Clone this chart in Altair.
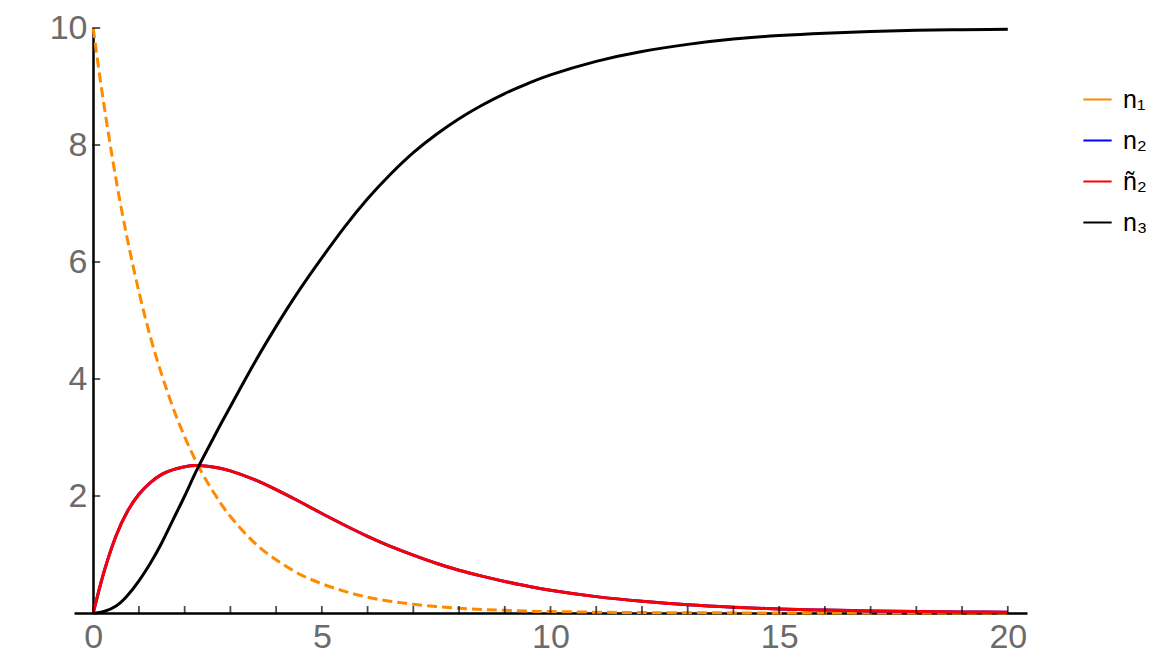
import altair as alt
import pandas as pd

t = [0, 0.1, 0.25, 0.5, 0.75, 1, 1.25, 1.5, 1.75, 2, 2.25, 2.5, 2.75, 3, 3.5, 4, 4.5,
     5, 5.5, 6, 6.5, 7, 7.5, 8, 8.5, 9, 9.5, 10, 11, 12, 13, 14, 15, 16, 17, 18, 19, 20]
n1 = [10, 9.42, 8.61, 7.41, 6.38, 5.49, 4.72, 4.07, 3.50, 3.01, 2.59, 2.23, 1.92, 1.65, 1.22,
      0.91, 0.67, 0.50, 0.37, 0.27, 0.20, 0.15, 0.11, 0.08, 0.06, 0.045, 0.033, 0.025, 0.014,
      0.007, 0.004, 0.002, 0.001, 0.0007, 0.0004, 0.0002, 0.0001, 0.0001]
n2 = [0, 0.31, 0.74, 1.32, 1.74, 2.03, 2.23, 2.37, 2.45, 2.50, 2.52, 2.51, 2.48, 2.43, 2.29,
      2.11, 1.91, 1.70, 1.50, 1.31, 1.14, 0.99, 0.85, 0.73, 0.63, 0.54, 0.46, 0.39, 0.28,
      0.20, 0.14, 0.10, 0.07, 0.05, 0.035, 0.025, 0.018, 0.012]
n2_tilde = [0, 0.31, 0.74, 1.32, 1.74, 2.03, 2.23, 2.37, 2.45, 2.50, 2.52, 2.51, 2.48, 2.43, 2.29,
            2.11, 1.91, 1.70, 1.50, 1.31, 1.14, 0.99, 0.85, 0.73, 0.63, 0.54, 0.46, 0.39, 0.28,
            0.20, 0.14, 0.10, 0.07, 0.05, 0.035, 0.025, 0.018, 0.012]
n3 = [0, 0.005, 0.03, 0.12, 0.30, 0.55, 0.85, 1.20, 1.60, 2.00, 2.42, 2.80, 3.17, 3.53, 4.24,
      4.90, 5.51, 6.07, 6.60, 7.08, 7.50, 7.87, 8.18, 8.45, 8.68, 8.88, 9.05, 9.20, 9.43,
      9.60, 9.72, 9.81, 9.87, 9.91, 9.94, 9.96, 9.97, 9.98]

series = ["n\u2081", "n\u2082", "\u00f1\u2082", "n\u2083"]
colors = ["#ff8a00", "#0000ff", "#ff0000", "#000000"]

x_ticks = list(range(0, 21))
x_labels = [0, 5, 10, 15, 20]
y_ticks = [2, 4, 6, 8, 10]

rows = []
for name, vals in zip(series, [n1, n2, n2_tilde, n3]):
    for ti, v in zip(t, vals):
        rows.append({"t": ti, "v": v, "s": name})
df = pd.DataFrame(rows)

FONT = "Liberation Sans"
xscale = alt.Scale(domain=[-0.42, 20.42], nice=False, zero=False)
yscale = alt.Scale(domain=[0, 10], nice=False)
cscale = alt.Scale(domain=series, range=colors)

xaxis = alt.Axis(values=x_labels, title=None, grid=False, ticks=False, domainColor="black",
                 domainWidth=2.5, labelFont=FONT, labelFontSize=34, labelColor="#6b6b6b",
                 labelPadding=7, format="d")
yaxis = alt.Axis(values=y_ticks, title=None, grid=False, ticks=False, domainColor="black",
                 domainWidth=2.5, labelFont=FONT, labelFontSize=34, labelColor="#6b6b6b",
                 labelPadding=6, offset=-19, format="d")

legend = alt.Legend(title=None, orient="none", legendX=1008, legendY=56, symbolType="stroke",
                    symbolSize=800, symbolStrokeWidth=2, labelFont=FONT, labelFontSize=25,
                    labelColor="black", rowPadding=12, symbolDash=[1, 0], labelOffset=10)

def layer(name, dash=None):
    kw = {"strokeWidth": 3}
    if dash:
        kw["strokeDash"] = dash
    return alt.Chart(df[df.s == name]).mark_line(interpolate="natural", clip=False, **kw).encode(
        x=alt.X("t:Q", scale=xscale, axis=xaxis),
        y=alt.Y("v:Q", scale=yscale, axis=yaxis),
        color=alt.Color("s:N", scale=cscale, legend=legend),
    )

xt = pd.DataFrame({"t": x_ticks, "v": [0] * len(x_ticks)})
yt = pd.DataFrame({"t": [0] * len(y_ticks), "v": y_ticks})

xtick_layer = alt.Chart(xt).mark_tick(color="black", thickness=1.8, size=8, yOffset=-3, orient="vertical").encode(
    x=alt.X("t:Q", scale=xscale), y=alt.Y("v:Q", scale=yscale))
ytick_layer = alt.Chart(yt).mark_tick(color="black", thickness=1.8, size=8, xOffset=3, orient="horizontal").encode(
    x=alt.X("t:Q", scale=xscale), y=alt.Y("v:Q", scale=yscale))

chart = alt.layer(
    layer(series[0], dash=[10, 5]),
    layer(series[1]),
    layer(series[2]),
    layer(series[3]),
    xtick_layer,
    ytick_layer,
).properties(
    width=953, height=585,
    autosize=alt.AutoSizeParams(type="none"),
    padding={"left": 66, "top": 20, "right": 130, "bottom": 45},
    background="white",
).configure_view(stroke=None)

chart.save("out.html", embed_options={"renderer": "svg", "actions": False})
